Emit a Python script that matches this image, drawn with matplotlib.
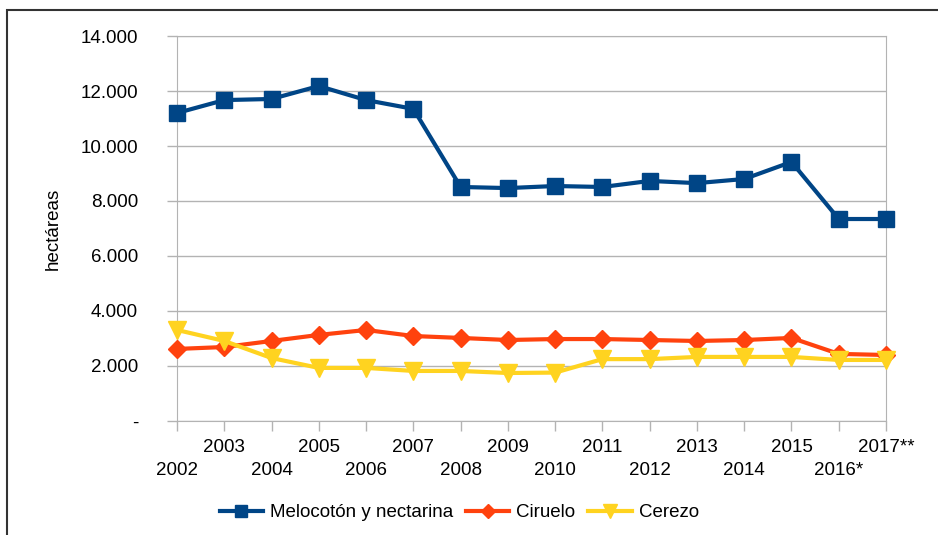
import matplotlib
matplotlib.use("Agg")
import matplotlib.pyplot as plt
from matplotlib.patches import Rectangle

plt.rcParams['font.family'] = ['Liberation Sans', 'DejaVu Sans']

# Datos (hectáreas)
years = ['2002', '2003', '2004', '2005', '2006', '2007', '2008', '2009',
         '2010', '2011', '2012', '2013', '2014', '2015', '2016*', '2017**']
melocoton = [11200, 11670, 11710, 12180, 11670, 11350, 8510, 8470,
             8545, 8510, 8730, 8650, 8800, 9420, 7345, 7345]
ciruelo = [2620, 2690, 2910, 3130, 3310, 3090, 3020, 2945,
           2980, 2980, 2945, 2910, 2945, 3020, 2440, 2400]
cerezo = [3310, 2910, 2290, 1930, 1930, 1820, 1820, 1745,
          1760, 2250, 2250, 2330, 2330, 2330, 2220, 2220]
yticks = [0, 2000, 4000, 6000, 8000, 10000, 12000, 14000]
ytick_labels = ['-', '2.000', '4.000', '6.000', '8.000', '10.000', '12.000', '14.000']

grey = '#b3b3b3'
fs = 13.5

fig = plt.figure(figsize=(9.38, 5.35), dpi=100)
ax = fig.add_axes([0.1887, 0.2131, 0.7559, 0.7196])

x = list(range(len(years)))
ax.plot(x, melocoton, color='#004586', lw=3, marker='s', ms=11.5,
        label='Melocotón y nectarina', zorder=4, clip_on=False)
ax.plot(x, ciruelo, color='#ff420e', lw=3, marker='D', ms=9,
        label='Ciruelo', zorder=3, clip_on=False)
ax.plot(x, cerezo, color='#ffd320', lw=3, marker='v', ms=13,
        label='Cerezo', zorder=3, clip_on=False)

ax.set_xlim(0, len(years) - 1)
ax.set_ylim(0, 14000)
ax.set_yticks(yticks)
ax.set_yticklabels(ytick_labels)
ax.yaxis.grid(True, color=grey, lw=1)
ax.set_axisbelow(True)

ax.set_xticks(x)
labels = [('\n' + y) if i % 2 == 0 else y for i, y in enumerate(years)]
ax.set_xticklabels(labels, linespacing=1.45)

for s in ax.spines.values():
    s.set_color(grey)
ax.tick_params(axis='both', colors=grey, labelcolor='black', labelsize=fs,
               length=7, width=1)
ax.tick_params(axis='y', pad=21)
ax.tick_params(axis='x', pad=6)

ax.set_ylabel('hectáreas', fontsize=fs)
ax.yaxis.set_label_coords(-0.163, 0.5)

ax.legend(loc='center', bbox_to_anchor=(0.398, -0.238), ncol=3,
          frameon=False, fontsize=fs, handlelength=2.3, markerscale=0.75,
          columnspacing=0.7, handletextpad=0.37)

# marco exterior
fig.patches.append(Rectangle((7 / 938, -0.1), 1.2, 1 - 10 / 535 + 0.1,
                             transform=fig.transFigure, fill=False,
                             edgecolor='#333333', lw=1.5))

fig.savefig('out.png', dpi=100)
